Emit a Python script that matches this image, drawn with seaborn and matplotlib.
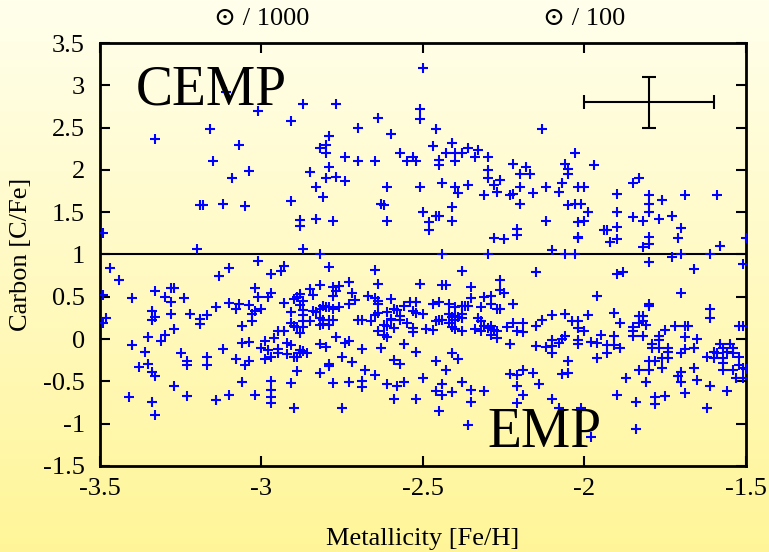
import numpy as np
import pandas as pd
import matplotlib
matplotlib.use('Agg')
import matplotlib.pyplot as plt
import seaborn as sns

# stars above the CEMP line, [Fe/H] and [C/Fe]
cemp_feh = [-3.11, -2.87, -3.01, -2.91, -3.16, -3.33, -3.07, -2.82, -3.15, -2.85,
            -3.04, -3.09, -2.83, -2.91, -3.19, -3.18, -3.12, -3.05, -2.88, -2.88,
            -2.83, -3.49, -3.20, -2.87,
            -2.50, -2.77, -2.51, -2.51, -2.64, -2.70, -2.46, -2.60, -2.79, -2.80,
            -2.80, -2.47, -2.41, -2.74, -2.70, -2.65, -2.57, -2.53, -2.55, -2.52,
            -2.43, -2.40, -2.38, -2.36, -2.33, -2.34, -2.30, -2.45, -2.45, -2.40,
            -2.79, -2.80, -2.77, -2.74, -2.81, -2.61, -2.51, -2.44, -2.40, -2.39,
            -2.36, -2.30, -2.30, -2.26, -2.28, -2.27, -2.31, -2.22, -2.20, -2.18,
            -2.17, -2.20, -2.23, -2.22, -2.20, -2.16, -2.63, -2.62, -2.78, -2.61,
            -2.50, -2.48, -2.48, -2.46, -2.45, -2.41, -2.41, -2.28, -2.25, -2.21,
            -2.21, -2.82, -2.44, -2.30,
            -2.13, -2.03, -2.06, -2.05, -2.05, -1.97, -2.12, -2.07, -2.08, -2.02,
            -2.00, -2.05, -2.03, -2.01, -1.99, -2.12, -2.02, -2.00, -2.02, -2.02,
            -1.94, -1.93, -1.90, -1.92, -1.90, -1.90, -1.90, -1.85, -1.83, -1.85,
            -1.82, -1.80, -1.80, -1.80, -1.80, -1.80, -1.82, -1.76, -1.77, -1.73,
            -1.70, -1.71, -1.69, -1.59, -1.58, -1.50, -2.10, -2.06, -2.03, -1.73,
            -1.70, -1.61]
cemp_cfe = [2.92, 2.78, 2.70, 2.58, 2.48, 2.37, 2.30, 2.26, 2.10, 1.98,
            1.99, 1.90, 1.80, 1.63, 1.58, 1.58, 1.60, 1.57, 1.41, 1.34,
            1.42, 1.25, 1.06, 1.07,
            3.20, 2.78, 2.72, 2.60, 2.61, 2.50, 2.48, 2.42, 2.40, 2.30,
            2.20, 2.28, 2.32, 2.15, 2.10, 2.10, 2.20, 2.15, 2.10, 2.10,
            2.20, 2.20, 2.20, 2.26, 2.23, 2.15, 2.15, 2.12, 2.06, 2.10,
            2.04, 1.91, 1.92, 1.87, 1.68, 1.80, 1.80, 1.85, 1.80, 1.73,
            1.82, 2.00, 1.91, 1.88, 1.82, 1.74, 1.70, 2.07, 1.95, 2.03,
            1.95, 1.80, 1.70, 1.72, 1.60, 1.73, 1.60, 1.59, 1.40, 1.40,
            1.50, 1.39, 1.29, 1.46, 1.45, 1.56, 1.40, 1.20, 1.18, 1.30,
            1.23, 1.00, 1.00, 1.00,
            2.48, 2.20, 2.07, 2.01, 1.95, 2.06, 1.80, 1.84, 1.74, 1.80,
            1.80, 1.58, 1.60, 1.60, 1.50, 1.40, 1.38, 1.40, 1.21, 1.19,
            1.29, 1.29, 1.33, 1.15, 1.18, 1.71, 1.50, 1.85, 1.91, 1.44,
            1.40, 1.70, 1.60, 1.50, 1.21, 1.13, 1.09, 1.64, 1.42, 1.45,
            1.31, 1.20, 1.70, 1.70, 1.10, 1.20, 1.05, 1.00, 1.00, 0.97,
            1.00, 1.00]

# stars below the line
emp_feh = [-3.47, -3.44, -3.49, -3.48, -3.49, -3.40, -3.33, -3.30, -3.28, -3.27,
           -3.28, -3.24, -3.34, -3.33, -3.34, -3.28, -3.27, -3.22, -3.19, -3.19,
           -3.17, -3.14, -3.13, -3.10, -3.10, -3.07, -3.08, -3.04, -3.02, -3.01,
           -3.01, -3.02, -3.03, -3.03, -3.00, -3.06, -3.35, -3.40, -3.36, -3.38,
           -3.35, -3.34, -3.33, -3.30, -3.31, -3.25, -3.23, -3.23, -3.17, -3.17,
           -3.12, -3.08, -3.06, -3.04, -3.04, -3.05, -3.00, -2.99, -2.99, -3.27,
           -3.41, -3.34, -3.33, -3.23, -3.14, -3.10, -3.06, -3.02,
           -2.93, -2.94, -2.97, -2.79, -2.65, -2.64, -2.51, -2.73, -2.82, -2.85,
           -2.84, -2.78, -2.76, -2.77, -2.78, -2.72, -2.71, -2.73, -2.67, -2.65,
           -2.64, -2.64, -2.60, -2.64, -2.65, -2.61, -2.59, -2.58, -2.56, -2.54,
           -2.52, -2.53, -2.52, -2.50, -2.60, -2.60, -2.57, -2.57, -2.55, -2.66,
           -2.70, -2.69, -2.59, -2.62, -2.61, -2.64, -2.62, -2.61, -2.53, -2.53,
           -2.49, -2.56, -2.52, -2.63, -2.69, -2.73, -2.74, -2.72, -2.75, -2.77,
           -2.80, -2.82, -2.79, -2.79, -2.82, -2.68, -2.65, -2.59, -2.57, -2.50,
           -2.61, -2.58, -2.56, -2.69, -2.69, -2.73, -2.78, -2.59, -2.52, -2.75,
           -2.90, -2.91, -2.97, -2.97, -2.97, -2.97, -2.89, -2.82, -2.81, -2.82,
           -2.81, -2.79, -2.78, -2.79, -2.82, -2.81, -2.80, -2.79, -2.78, -2.76,
           -2.83, -2.84, -2.87, -2.87, -2.85, -2.87, -2.87, -2.89, -2.90, -2.91,
           -2.88, -2.89, -2.88, -2.90, -2.87, -2.88, -2.93, -2.91, -2.97, -2.98,
           -2.95, -2.93, -2.96, -2.92, -2.91, -2.98, -2.95, -2.95, -2.97, -2.92,
           -2.90, -2.89, -2.88, -2.88, -2.86, -2.87,
           -2.38, -2.15, -2.44, -2.43, -2.35, -2.26, -2.26, -2.25, -2.35, -2.31,
           -2.29, -2.29, -2.32, -2.27, -2.26, -2.22, -2.47, -2.45, -2.42, -2.40,
           -2.38, -2.37, -2.36, -2.42, -2.41, -2.40, -2.39, -2.38, -2.38, -2.40,
           -2.42, -2.45, -2.46, -2.44, -2.47, -2.41, -2.40, -2.38, -2.33, -2.32,
           -2.31, -2.30, -2.29, -2.28, -2.32, -2.34, -2.29, -2.27, -2.27, -2.24,
           -2.22, -2.21, -2.19, -2.19, -2.15, -2.13, -2.10, -2.06, -2.04, -2.02,
           -2.02, -1.99, -2.00, -2.10, -2.07, -2.08, -2.06, -2.02, -2.02, -2.15,
           -2.12, -2.10, -2.10, -2.23, -2.41, -2.39, -2.46, -2.43, -2.44, -2.46,
           -2.44, -2.41, -2.38, -2.35, -2.35, -2.31, -2.45, -2.36, -2.23, -2.21,
           -2.19, -2.16, -2.14, -2.21, -2.19, -2.21, -2.05, -2.07, -2.05, -2.10,
           -2.08, -2.01,
           -1.51, -1.80, -1.90, -1.88, -1.66, -1.96, -1.70, -1.80, -1.80, -1.91,
           -1.89, -1.83, -1.82, -1.83, -1.82, -1.81, -1.85, -1.85, -1.85, -1.82,
           -1.95, -1.98, -1.96, -1.93, -1.91, -1.91, -1.89, -1.93, -1.96, -1.77,
           -1.77, -1.79, -1.79, -1.77, -1.75, -1.72, -1.69, -1.68, -1.69, -1.65,
           -1.66, -1.69, -1.70, -1.74, -1.74, -1.74, -1.76, -1.78, -1.80, -1.80,
           -1.83, -1.76, -1.81, -1.87, -1.90, -1.84, -1.78, -1.78, -1.75, -1.84,
           -1.98, -1.71, -1.70, -1.70, -1.69, -1.66, -1.65, -1.61, -1.62, -1.56,
           -1.61, -1.61, -1.52, -1.51, -1.58, -1.57, -1.60, -1.59, -1.62, -1.60,
           -1.57, -1.57, -1.57, -1.55, -1.54, -1.56, -1.54, -1.52, -1.52, -1.54,
           -1.51, -1.50, -1.53, -1.51]
emp_cfe = [0.84, 0.70, 0.52, 0.25, 0.19, 0.48, 0.57, 0.50, 0.60, 0.60,
           0.44, 0.48, 0.33, 0.26, 0.23, 0.30, 0.12, 0.30, 0.24, 0.18,
           0.29, 0.38, 0.74, 0.84, 0.43, 0.42, 0.35, 0.40, 0.60, 0.50,
           0.92, 0.33, 0.30, 0.21, 0.35, 0.16, 0.03, -0.07, -0.15, -0.33,
           -0.29, -0.39, -0.44, 0.05, -0.02, -0.17, -0.26, -0.31, -0.21, -0.31,
           -0.12, -0.23, -0.05, -0.03, -0.26, -0.31, -0.10, -0.02, -0.23, -0.56,
           -0.68, -0.74, -0.90, -0.67, -0.72, -0.66, -0.51, -0.66,
           0.86, 0.81, 0.77, 0.85, 0.82, 0.65, 0.65, 0.67, 0.64, 0.59,
           0.52, 0.62, 0.63, 0.57, 0.51, 0.54, 0.46, 0.42, 0.51, 0.48,
           0.45, 0.42, 0.47, 0.31, 0.29, 0.32, 0.36, 0.34, 0.39, 0.44,
           0.44, 0.33, 0.31, 0.30, 0.24, 0.22, 0.27, 0.22, 0.19, 0.21,
           0.23, 0.23, 0.13, 0.17, 0.15, 0.10, 0.05, 0.03, 0.13, 0.08,
           0.12, -0.06, -0.15, -0.11, -0.12, -0.02, -0.05, -0.27, -0.21, 0.02,
           -0.09, -0.06, -0.30, -0.32, -0.40, -0.36, -0.42, -0.25, -0.29, -0.46,
           -0.53, -0.56, -0.51, -0.49, -0.57, -0.51, -0.52, -0.71, -0.71, -0.81,
           -0.81, -0.52, -0.50, -0.60, -0.68, -0.75, -0.38, 0.25, 0.23, 0.17,
           0.18, 0.23, 0.22, 0.17, 0.35, 0.39, 0.38, 0.38, 0.35, 0.38,
           0.32, 0.33, 0.34, 0.29, 0.21, 0.21, 0.14, 0.14, 0.16, 0.19,
           0.07, 0.50, 0.53, 0.47, 0.45, 0.40, 0.43, 0.32, 0.54, 0.50,
           0.10, 0.10, 0.01, -0.05, -0.07, -0.13, -0.12, -0.17, -0.21, -0.18,
           -0.21, -0.21, -0.13, -0.17, -0.17, -0.14,
           0.80, 0.79, 0.64, 0.64, 0.62, 0.70, 0.58, 0.54, 0.49, 0.50,
           0.51, 0.42, 0.38, 0.36, 0.35, 0.42, 0.42, 0.44, 0.42, 0.38,
           0.39, 0.39, 0.39, 0.30, 0.26, 0.27, 0.26, 0.30, 0.25, 0.23,
           0.19, 0.23, 0.21, 0.23, 0.11, 0.14, 0.12, 0.10, 0.25, 0.21,
           0.15, 0.13, 0.16, 0.11, 0.09, 0.12, 0.05, 0.01, 0.10, 0.14,
           0.19, 0.09, 0.19, 0.08, 0.15, 0.23, 0.29, 0.30, 0.21, 0.21,
           0.13, 0.29, 0.09, -0.01, 0.00, -0.05, 0.04, -0.01, -0.06, -0.08,
           -0.09, -0.16, -0.08, -0.06, -0.16, -0.23, -0.26, -0.37, -0.53, -0.61,
           -0.66, -0.62, -0.51, -0.60, -0.74, -0.61, -0.85, -1.01, -0.41, -0.42,
           -0.36, -0.40, -0.53, -0.56, -0.66, -0.76, -0.26, -0.41, -0.40, -0.71,
           -0.82, -0.82,
           0.89, 0.91, 0.77, 0.79, 0.83, 0.51, 0.55, 0.41, 0.39, 0.31,
           0.19, 0.27, 0.27, 0.19, 0.21, 0.17, 0.14, 0.09, 0.04, 0.04,
           0.05, -0.03, -0.05, -0.07, 0.04, -0.07, -0.11, -0.16, -0.22, 0.04,
           -0.01, -0.06, -0.11, -0.11, 0.11, 0.15, 0.15, 0.15, 0.03, 0.00,
           -0.11, -0.12, -0.16, -0.11, -0.15, -0.22, -0.22, -0.26, -0.26, -0.36,
           -0.36, -0.34, -0.51, -0.46, -0.66, -0.74, -0.68, -0.77, -0.67, -1.06,
           -1.16, -0.44, -0.39, -0.51, -0.64, -0.34, -0.48, -0.56, -0.81, -0.61,
           0.35, 0.25, 0.15, 0.15, -0.06, -0.10, -0.15, -0.17, -0.21, -0.22,
           -0.22, -0.28, -0.36, -0.06, -0.11, -0.15, -0.17, -0.21, -0.31, -0.36,
           -0.34, -0.35, -0.46, -0.46]

# typical error bar drawn in the upper right
err_feh, err_cfe = -1.8, 2.8
err_dfeh, err_dcfe = 0.2, 0.3

cemp_cut = 1.0

xticks = [-3.5, -3, -2.5, -2, -1.5]
xticklabels = ['-3.5', '-3', '-2.5', '-2', '-1.5']
yticks = [-1.5, -1, -0.5, 0, 0.5, 1, 1.5, 2, 2.5, 3, 3.5]
yticklabels = ['-1.5', '-1', '-0.5', '0', '0.5', '1', '1.5', '2', '2.5', '3', '3.5']
top_pos = [-3, -2]
top_labels = ['\u2299 / 1000', '\u2299 / 100']

df = pd.DataFrame({'feh': cemp_feh + emp_feh, 'cfe': cemp_cfe + emp_cfe})

sns.set_theme(style='ticks')
plt.rcParams['font.family'] = ['Liberation Serif', 'DejaVu Serif', 'DejaVu Sans']
plt.rcParams['axes.unicode_minus'] = False
plt.rcParams['text.color'] = 'black'
plt.rcParams['axes.labelcolor'] = 'black'

fig = plt.figure(figsize=(7.69, 5.52), dpi=100)

# yellow gradient behind everything
bg = fig.add_axes([0, 0, 1, 1], zorder=-10)
g = np.linspace(0, 1, 256)[:, None, None]
c_top = np.array([255, 255, 236]) / 255
c_bot = np.array([255, 245, 152]) / 255
bg.imshow(c_top + (c_bot - c_top) * g, aspect='auto', extent=[0, 1, 0, 1])
bg.axis('off')

ax = fig.add_axes([0.130, 0.1558, 0.840, 0.7663])
ax.set_facecolor('none')

sns.scatterplot(data=df, x='feh', y='cfe', marker='+', color='blue',
                s=48, linewidth=1.5, ax=ax, zorder=3)
ax.axhline(cemp_cut, color='black', lw=1.5, zorder=2)
ax.errorbar(err_feh, err_cfe, xerr=err_dfeh, yerr=err_dcfe, color='black',
            lw=1.5, capsize=5, capthick=1.5)

ax.set_xlim(-3.5, -1.5)
ax.set_ylim(-1.5, 3.5)
ax.set_xticks(xticks)
ax.set_xticklabels(xticklabels)
ax.set_yticks(yticks)
ax.set_yticklabels(yticklabels)
ax.tick_params(direction='in', top=True, right=True, length=7, width=1.5,
               labelsize=19, colors='black')
ax.tick_params(axis='y', pad=11)
ax.tick_params(axis='x', pad=9)
for sp in ax.spines.values():
    sp.set_linewidth(2)
    sp.set_color('black')

ax.set_xlabel('Metallicity [Fe/H]', fontsize=19, labelpad=20, color='black')
ax.set_ylabel('Carbon [C/Fe]', fontsize=19, labelpad=8, color='black')

for xp, lab in zip(top_pos, top_labels):
    ax.text(xp, 1.043, lab, transform=ax.get_xaxis_transform(),
            ha='center', va='baseline', fontsize=19, color='black')

ax.text(-3.39, 2.77, 'CEMP', fontsize=40, va='baseline', color='black')
ax.text(-2.30, -1.28, 'EMP', fontsize=40, va='baseline', color='black')

fig.savefig('out.png', dpi=100)
